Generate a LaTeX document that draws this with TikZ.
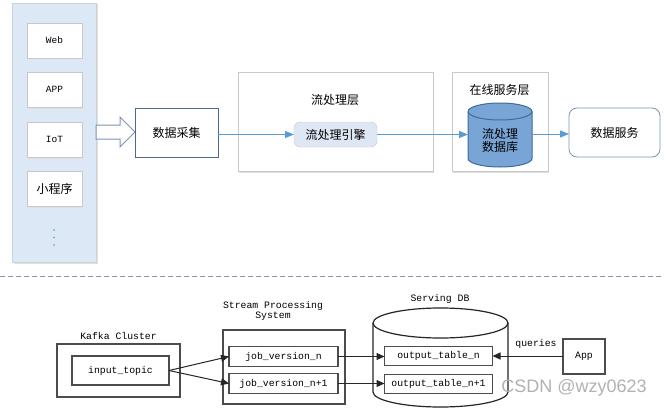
\documentclass[tikz,border=0pt]{standalone}
\usepackage{fontspec}
\setmainfont{Liberation Sans}
\newfontfamily\cjk{Noto Sans CJK SC}
\newfontfamily\mono{Liberation Mono}
\usetikzlibrary{arrows.meta,shadows}
\definecolor{panelfill}{HTML}{DCE8F5}
\definecolor{panelline}{HTML}{C9D3DE}
\definecolor{boxline}{HTML}{C8C8C8}
\definecolor{linkblue}{HTML}{5B9BD5}
\definecolor{darkblue}{HTML}{4A6A8C}
\definecolor{dbfill}{HTML}{78A5D6}
\definecolor{dbline}{HTML}{3F6C99}
\definecolor{enginefill}{HTML}{DEE8F4}
\definecolor{svcline}{HTML}{7A95B5}
\definecolor{sepline}{HTML}{8497B0}
\tikzset{
  softshadow/.style={drop shadow={shadow xshift=1pt,shadow yshift=-1.5pt,fill=black!12,opacity=1}},
  srcbox/.style={draw=boxline,fill=white,minimum width=55pt,minimum height=35pt,inner sep=0pt,outer sep=0pt,softshadow},
  layerbox/.style={draw=boxline,fill=white,inner sep=0pt,outer sep=0pt,softshadow},
  cn/.style={font=\cjk\fontsize{12}{14}\selectfont},
  mn/.style={font=\mono\fontsize{9.5}{11}\selectfont},
  bluearrow/.style={draw=linkblue,line width=0.8pt,-{Triangle[length=9pt,width=7pt]}},
  blackarrow/.style={draw=black!85,line width=1pt,-{Triangle[length=8pt,width=7pt]}},
  bbox/.style={draw=black!70,line width=1.1pt,fill=white,inner sep=0pt,outer sep=0pt,font=\mono\fontsize{9.8}{11}\selectfont},
  plain/.style={inner sep=0pt,font=\mono\fontsize{9.8}{11}\selectfont},
}
\begin{document}
\begin{tikzpicture}[x=1pt,y=1pt]
\useasboundingbox[fill=white] (0,0) rectangle (664,-412);
% ---------- top part ----------
\node[draw=panelline,fill=panelfill,minimum width=84pt,minimum height=259pt,inner sep=0pt,outer sep=0pt,softshadow] (panel) at (54.5,-132.5) {};
\node[srcbox,mn] (web) at (54.5,-40.5) {Web};
\node[srcbox,mn] (app) at (54.5,-89.5) {APP};
\node[srcbox,mn] (iot) at (54.5,-139.5) {IoT};
\node[srcbox,cn] (mini) at (54.5,-189) {小程序};
\foreach \yy in {230,237.5,245} \fill[linkblue] (54,-\yy) circle (0.8);
% hollow arrow
\draw[draw=svcline,line width=1pt,fill=white] (96,-125) -- (120,-125) -- (120,-117) -- (135,-132) -- (120,-147) -- (120,-139) -- (96,-139) -- cycle;
\node[draw=darkblue,line width=0.8pt,fill=white,minimum width=83pt,minimum height=49pt,inner sep=0pt,outer sep=0pt,cn] (collect) at (176.5,-132.5) {数据采集};
% stream layer
\node[layerbox,minimum width=195pt,minimum height=99pt] (layer) at (335.5,-121.5) {};
\node[cn] (layerlbl) at (335,-100) {流处理层};
\node[draw=boxline,fill=enginefill,rounded corners=6pt,minimum width=83pt,minimum height=25pt,inner sep=0pt,outer sep=0pt,cn] (engine) at (335.5,-134.5) {流处理引擎};
% serving layer
\node[layerbox,minimum width=96pt,minimum height=99pt] (serve) at (500,-121.5) {};
\node[cn] (servelbl) at (499.5,-90) {在线服务层};
\draw[draw=dbline,line width=1pt,fill=dbfill] (468,-111.5) -- (468,-158.5) arc[start angle=180,end angle=360,x radius=32,y radius=8.5] -- (532,-111.5) arc[start angle=0,end angle=180,x radius=32,y radius=8.5] -- cycle;
\draw[draw=dbline,line width=1pt] (468,-111.5) arc[start angle=180,end angle=360,x radius=32,y radius=8.5];
\node[minimum width=64pt,minimum height=64pt,inner sep=0pt,outer sep=0pt] (db) at (500,-134) {};
\node[cn,align=center,inner sep=0pt] (dbtxt) at (500,-140) {流处理\\[-1pt]数据库};
\node[draw=svcline,line width=0.8pt,fill=white,rounded corners=8pt,minimum width=91pt,minimum height=49pt,inner sep=0pt,outer sep=0pt,cn] (svc) at (614.5,-132.5) {数据服务};
\draw[bluearrow] (collect.east |- engine.west) -- (engine.west);
\draw[bluearrow] (engine.east) -- (engine.east -| db.west);
\draw[bluearrow] (db.east) -- (db.east -| svc.west);
% separator
\coordinate (sepL) at (0,-276);
\coordinate (sepR) at (664,-276);
\draw[draw=sepline,line width=0.9pt,dash pattern=on 5pt off 3pt] (sepL) -- (sepR);
% ---------- bottom part ----------
\node[plain] (kafkalbl) at (118.5,-336) {Kafka Cluster};
\node[bbox,minimum width=123pt,minimum height=53pt] (kafka) at (118.5,-370.5) {};
\node[bbox,minimum width=97pt,minimum height=29pt] (topic) at (120.5,-370.5) {input\_topic};
\node[plain,align=center] (spslbl) at (273,-311) {Stream Processing\\[-1pt]System};
\node[bbox,minimum width=122pt,minimum height=74pt] (sps) at (284,-367) {};
\node[bbox,minimum width=109pt,minimum height=19.5pt] (jobn) at (283.5,-356.5) {job\_version\_n};
\node[bbox,minimum width=109pt,minimum height=19.5pt] (jobm) at (283.5,-383.5) {job\_version\_n+1};
\node[plain] (dblbl) at (440,-299) {Serving DB};
\draw[draw=black!85,line width=1.2pt,fill=white] (373,-323) -- (373,-392) arc[start angle=180,end angle=360,x radius=67.5,y radius=15] -- (508,-323) arc[start angle=0,end angle=180,x radius=67.5,y radius=15] -- cycle;
\draw[draw=black!85,line width=1.2pt] (373,-323) arc[start angle=180,end angle=360,x radius=67.5,y radius=15];
\node[bbox,minimum width=108pt,minimum height=19.5pt] (outn) at (438.5,-356) {output\_table\_n};
\node[bbox,minimum width=108pt,minimum height=19.5pt] (outm) at (438.5,-384) {output\_table\_n+1};
\node[bbox,minimum width=42pt,minimum height=35pt] (app2) at (584,-356.5) {App};
\node[plain] (qlbl) at (536,-344) {queries};
\draw[blackarrow] (topic.east) -- (jobn.west);
\draw[blackarrow] (topic.east) -- (jobm.west);
\draw[blackarrow] (jobn.east) -- (jobn.east -| outn.west);
\draw[blackarrow] (jobm.east) -- (jobm.east -| outm.west);
\draw[blackarrow] (app2.west |- outn.east) -- (outn.east);
% watermark
\node[font=\fontsize{18}{20}\selectfont,text=black!30,inner sep=0pt] (wm) at (574,-388) {CSDN @wzy0623};
\end{tikzpicture}
\end{document}
